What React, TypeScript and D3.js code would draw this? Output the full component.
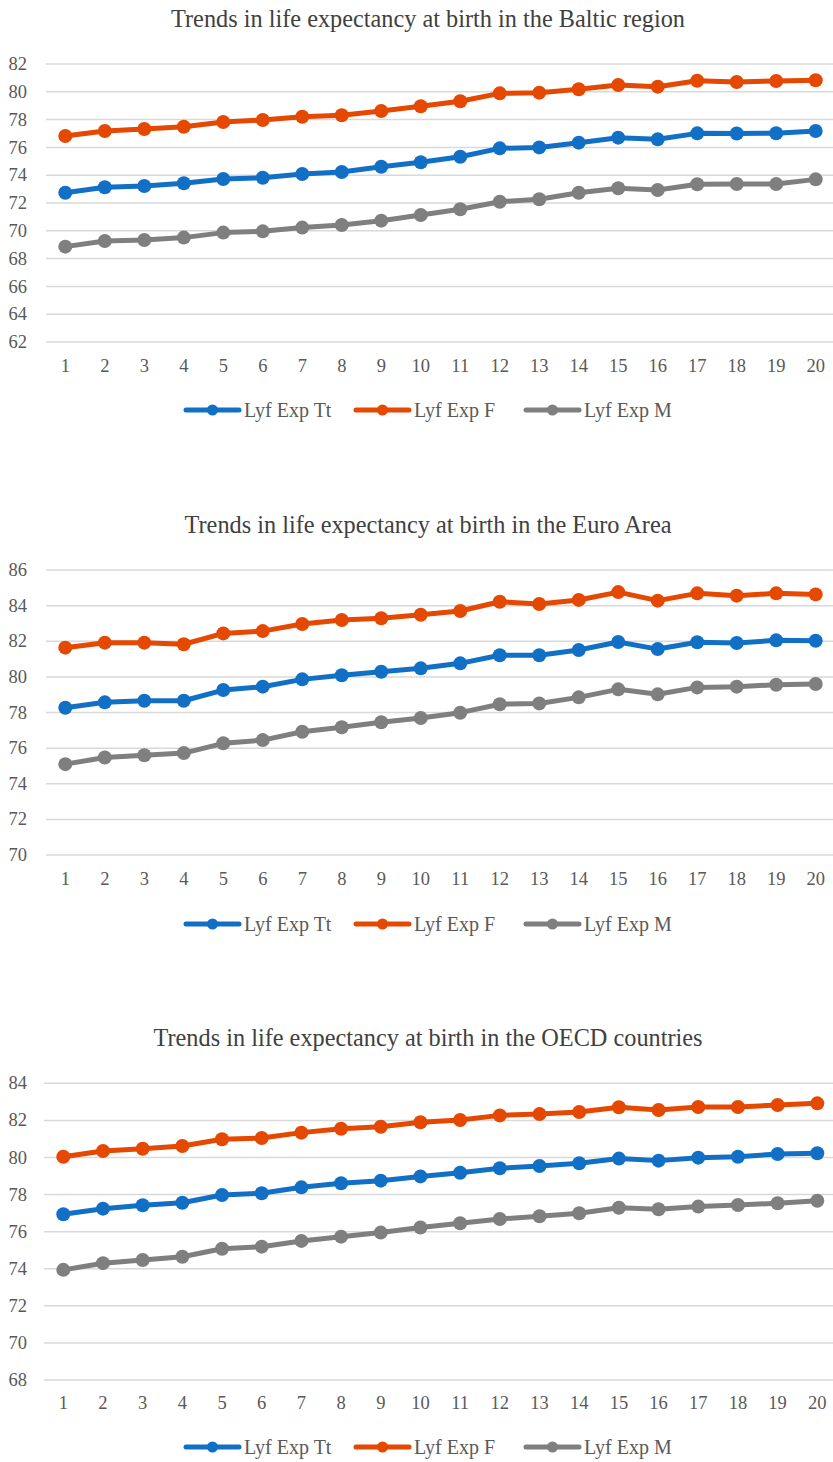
import React from "react";
import * as d3 from "d3";

const categories = Array.from({ length: 20 }, (_, i) => String(i + 1));
const seriesNames = ["Lyf Exp Tt", "Lyf Exp F", "Lyf Exp M"];
const seriesColors = ["#1170C6", "#E54800", "#7F7F7F"];

const balticTotal = [72.74, 73.13, 73.22, 73.42, 73.73, 73.82, 74.09, 74.23, 74.61, 74.93, 75.33, 75.93, 76.0, 76.34, 76.7, 76.58, 77.01, 77.0, 77.02, 77.18];
const balticFemale = [76.82, 77.18, 77.32, 77.49, 77.83, 77.97, 78.21, 78.31, 78.62, 78.96, 79.32, 79.89, 79.94, 80.18, 80.49, 80.37, 80.8, 80.71, 80.78, 80.83];
const balticMale = [68.86, 69.27, 69.34, 69.51, 69.87, 69.96, 70.23, 70.42, 70.73, 71.14, 71.55, 72.09, 72.27, 72.74, 73.06, 72.94, 73.35, 73.37, 73.36, 73.7];

const euroTotal = [78.27, 78.57, 78.66, 78.66, 79.26, 79.45, 79.86, 80.09, 80.29, 80.48, 80.76, 81.21, 81.21, 81.51, 81.96, 81.56, 81.94, 81.9, 82.05, 82.03];
const euroFemale = [81.64, 81.92, 81.92, 81.83, 82.44, 82.57, 82.97, 83.19, 83.29, 83.49, 83.7, 84.22, 84.09, 84.32, 84.76, 84.28, 84.69, 84.56, 84.69, 84.63];
const euroMale = [75.1, 75.47, 75.6, 75.72, 76.27, 76.45, 76.92, 77.17, 77.45, 77.69, 77.99, 78.46, 78.51, 78.85, 79.3, 79.02, 79.41, 79.45, 79.56, 79.6];

const oecdTotal = [76.94, 77.24, 77.42, 77.56, 77.98, 78.07, 78.39, 78.61, 78.75, 78.98, 79.18, 79.42, 79.54, 79.69, 79.94, 79.83, 79.99, 80.04, 80.19, 80.23];
const oecdFemale = [80.04, 80.35, 80.47, 80.62, 80.98, 81.05, 81.34, 81.55, 81.66, 81.9, 82.02, 82.27, 82.34, 82.45, 82.71, 82.56, 82.72, 82.72, 82.83, 82.92];
const oecdMale = [73.94, 74.3, 74.47, 74.65, 75.08, 75.19, 75.5, 75.73, 75.95, 76.22, 76.45, 76.68, 76.83, 76.99, 77.29, 77.21, 77.35, 77.44, 77.53, 77.67];

const balticTicks = [62, 64, 66, 68, 70, 72, 74, 76, 78, 80, 82];
const euroTicks = [70, 72, 74, 76, 78, 80, 82, 84, 86];
const oecdTicks = [68, 70, 72, 74, 76, 78, 80, 82, 84];

const titles = [
  "Trends in life expectancy at birth in the Baltic region",
  "Trends in life expectancy at birth in the Euro Area",
  "Trends in life expectancy at birth in the OECD countries",
];

const FONT = "'Liberation Serif', 'DejaVu Serif', serif";

type Panel = {
  title: string;
  series: number[][];
  ticks: number[];
  titleY: number;
  yTop: number;
  yBottom: number;
  xFirst: number;
  xLast: number;
  gridStart: number;
  xLabelY: number;
  legendY: number;
};

const panels: Panel[] = [
  { title: titles[0], series: [balticTotal, balticFemale, balticMale], ticks: balticTicks, titleY: 27, yTop: 64, yBottom: 342, xFirst: 65.3, xLast: 815.7, gridStart: 46, xLabelY: 372, legendY: 410 },
  { title: titles[1], series: [euroTotal, euroFemale, euroMale], ticks: euroTicks, titleY: 533, yTop: 570, yBottom: 855, xFirst: 65.3, xLast: 815.7, gridStart: 46, xLabelY: 885, legendY: 924 },
  { title: titles[2], series: [oecdTotal, oecdFemale, oecdMale], ticks: oecdTicks, titleY: 1046, yTop: 1083.3, yBottom: 1380, xFirst: 63.3, xLast: 817.3, gridStart: 44, xLabelY: 1409, legendY: 1447 },
];

const legendX = [186, 356, 526];

function ChartPanel({ p }: { p: Panel }) {
  const x = d3.scalePoint<string>().domain(categories).range([p.xFirst, p.xLast]);
  const y = d3
    .scaleLinear()
    .domain([p.ticks[0], p.ticks[p.ticks.length - 1]])
    .range([p.yBottom, p.yTop]);
  const line = d3
    .line<number>()
    .x((_, i) => x(categories[i]) as number)
    .y((v) => y(v));
  return (
    <g>
      <text x={428} y={p.titleY} textAnchor="middle" fontSize={24.3} fill="#404040" fontFamily={FONT}>
        {p.title}
      </text>
      {p.ticks.map((t) => (
        <g key={t}>
          <line x1={p.gridStart} x2={833} y1={y(t)} y2={y(t)} stroke="#D9D9D9" strokeWidth={1.5} />
          <text x={27} y={y(t)} dy="0.33em" textAnchor="end" fontSize={18.5} fill="#595959" fontFamily={FONT}>
            {t}
          </text>
        </g>
      ))}
      {categories.map((c) => (
        <text key={c} x={x(c)} y={p.xLabelY} textAnchor="middle" fontSize={18.5} fill="#595959" fontFamily={FONT}>
          {c}
        </text>
      ))}
      {p.series.map((s, si) => (
        <g key={si}>
          <path d={line(s) || ""} fill="none" stroke={seriesColors[si]} strokeWidth={5} strokeLinejoin="round" />
          {s.map((v, i) => (
            <circle key={i} cx={x(categories[i])} cy={y(v)} r={7} fill={seriesColors[si]} />
          ))}
        </g>
      ))}
      {seriesNames.map((n, si) => (
        <g key={n} transform={`translate(${legendX[si]},${p.legendY})`}>
          <line x1={0} x2={53} y1={0} y2={0} stroke={seriesColors[si]} strokeWidth={5} strokeLinecap="round" />
          <circle cx={26.5} cy={0} r={5.5} fill={seriesColors[si]} />
          <text x={58} y={0} dy="0.33em" fontSize={20} fill="#595959" fontFamily={FONT}>
            {n}
          </text>
        </g>
      ))}
    </g>
  );
}

export default function App() {
  return (
    <svg
      width={833}
      height={1462}
      style={{ position: "absolute", left: 0, top: 0, display: "block", background: "#fff" }}
    >
      <rect x={0} y={0} width={833} height={1462} fill="#fff" />
      {panels.map((p, i) => (
        <ChartPanel key={i} p={p} />
      ))}
    </svg>
  );
}
